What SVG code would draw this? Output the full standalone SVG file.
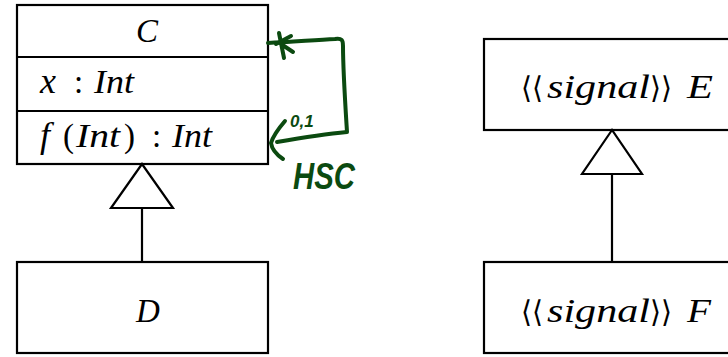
<svg xmlns="http://www.w3.org/2000/svg" width="728" height="357" viewBox="0 0 728 357">
<style>
.box{fill:#fff;stroke:#000;stroke-width:2.2}
.ln{fill:none;stroke:#000;stroke-width:2.2}
.tri{fill:#fff;stroke:#000;stroke-width:2.2;stroke-linejoin:miter}
.t{font-family:"Liberation Serif","DejaVu Serif",serif;font-style:italic;font-size:33px;fill:#000}
.u{font-style:normal}
.b{font-style:normal;font-family:"DejaVu Serif","Liberation Serif",serif;font-size:30px}
.hw{fill:none;stroke:#0b4a10;stroke-width:4;stroke-linecap:round;stroke-linejoin:round}
.hwt{font-family:"Liberation Sans","DejaVu Sans",sans-serif;font-style:italic;font-weight:bold;fill:#0b4a10}
</style>
<rect width="728" height="357" fill="#fff"/>
<g id="C">
<rect class="box" x="17" y="5" width="251" height="159"/>
<line class="ln" x1="17" y1="57" x2="268" y2="57"/>
<line class="ln" x1="17" y1="111" x2="268" y2="111"/>
<text class="t" x="147" y="42" text-anchor="middle" font-size="35">C</text>
<text class="t" y="93"><tspan x="40" font-size="36">x</tspan><tspan class="u" x="74">:</tspan><tspan x="94" textLength="40" lengthAdjust="spacingAndGlyphs">Int</tspan></text>
<text class="t" y="147"><tspan x="40" font-size="36">f</tspan><tspan class="u" x="63">(</tspan><tspan x="76" textLength="44" lengthAdjust="spacingAndGlyphs">Int</tspan><tspan class="u" x="124">)</tspan><tspan class="u" x="152">:</tspan><tspan x="172" textLength="40" lengthAdjust="spacingAndGlyphs">Int</tspan></text>
</g>
<g id="D">
<rect class="box" x="17" y="262" width="251" height="91"/>
<text class="t" x="148" y="322" text-anchor="middle" font-size="35">D</text>
</g>
<g id="E">
<rect class="box" x="484" y="39" width="250" height="91"/>
<text class="t" y="98"><tspan class="b" x="521" textLength="22" lengthAdjust="spacingAndGlyphs">⟨⟨</tspan><tspan x="547" textLength="103" lengthAdjust="spacingAndGlyphs">signal</tspan><tspan class="b" x="650" textLength="22" lengthAdjust="spacingAndGlyphs">⟩⟩</tspan><tspan x="687" textLength="26" lengthAdjust="spacingAndGlyphs">E</tspan></text>
</g>
<g id="F">
<rect class="box" x="484" y="262" width="250" height="91"/>
<text class="t" y="322"><tspan class="b" x="521" textLength="22" lengthAdjust="spacingAndGlyphs">⟨⟨</tspan><tspan x="547" textLength="103" lengthAdjust="spacingAndGlyphs">signal</tspan><tspan class="b" x="650" textLength="22" lengthAdjust="spacingAndGlyphs">⟩⟩</tspan><tspan x="687" textLength="24" lengthAdjust="spacingAndGlyphs">F</tspan></text>
</g>
<g id="connectors">
<line class="ln" x1="142" y1="208" x2="142" y2="262"/>
<polygon class="tri" points="142,164 111,208 173,208"/>
<line class="ln" x1="612" y1="174" x2="612" y2="262"/>
<polygon class="tri" points="612,130 582,174 642,174"/>
</g>
<g id="annotation">
<path class="hw" d="M268,43 C290,42 315,40 335,39 C342,38 343,40 343,46 C343,70 345,100 347,132 C325,134 300,138 277,142"/>
<path class="hw" d="M285,121 C279,128 273,136 271,143 C272,150 277,155 283,159"/>
<path class="hw" d="M279,33 L284,58 M276,44 L291,36 M281,44 L293,52"/>
<text class="hwt" x="290" y="127" font-size="17">0,1</text>
<text class="hwt" x="293" y="189" font-size="36" textLength="62" lengthAdjust="spacingAndGlyphs">HSC</text>
</g>
</svg>
